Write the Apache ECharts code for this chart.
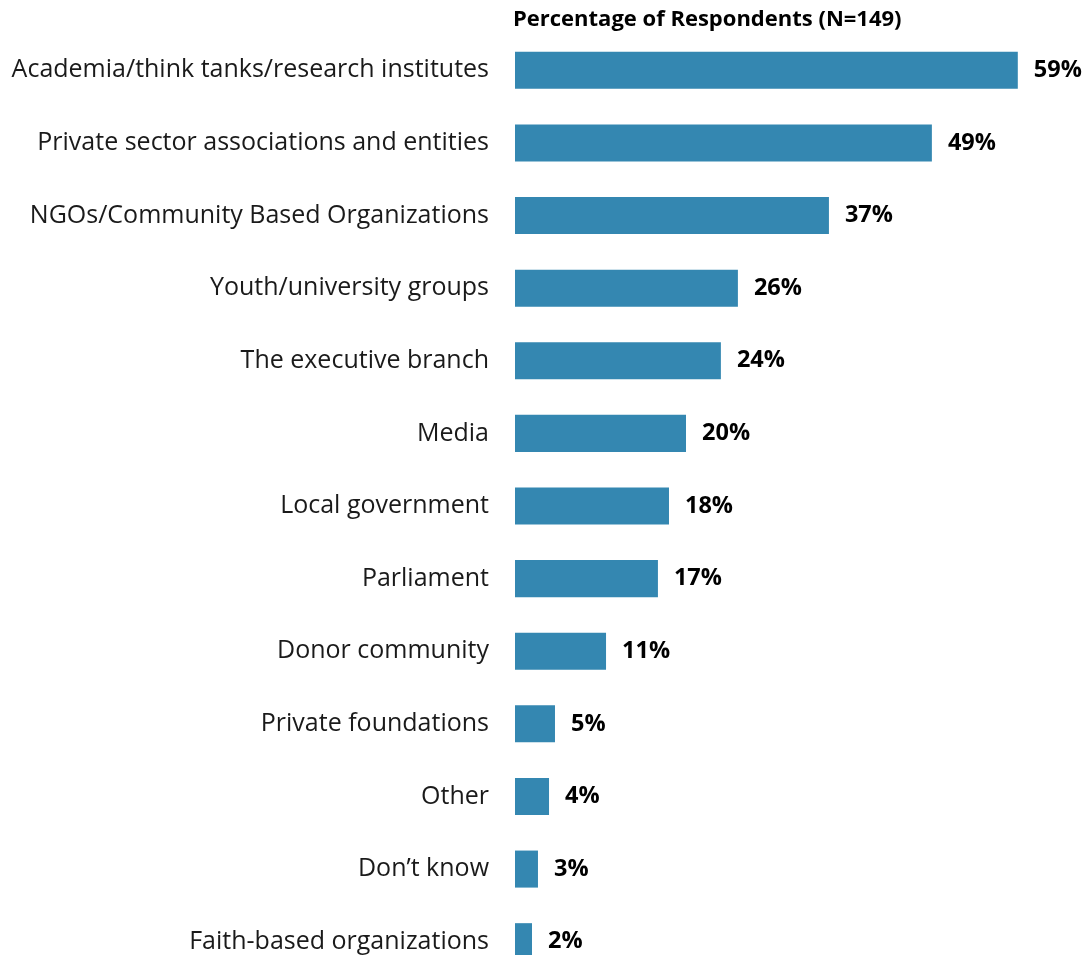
<!DOCTYPE html>
<html>
<head>
<meta charset="utf-8">
<script src="https://cdn.jsdelivr.net/npm/echarts@6/dist/echarts.min.js"></script>
<style>html,body{margin:0;padding:0;background:#fff;}#c{width:1088px;height:955px;}</style>
</head>
<body>
<div id="c"></div>
<script>
const categories = [
  "Academia/think tanks/research institutes",
  "Private sector associations and entities",
  "NGOs/Community Based Organizations",
  "Youth/university groups",
  "The executive branch",
  "Media",
  "Local government",
  "Parliament",
  "Donor community",
  "Private foundations",
  "Other",
  "Don\u2019t know",
  "Faith-based organizations"
];
const values = [59.1, 49.0, 36.9, 26.2, 24.2, 20.1, 18.1, 16.8, 10.7, 4.7, 4.0, 2.7, 2.0];
const title = "Percentage of Respondents (N=149)";

const chart = echarts.init(document.getElementById('c'), null, {renderer: 'canvas'});
chart.setOption({
  animation: false,
  backgroundColor: '#ffffff',
  title: {
    text: title,
    left: 508, top: 4,
    textStyle: {fontFamily: 'Open Sans', fontWeight: 'bold', fontSize: 22, color: '#000'}
  },
  grid: {left: 515, top: 34, width: 553, height: 944, containLabel: false, outerBoundsMode: 'none'},
  xAxis: {
    type: 'value', min: 0, max: 65, show: false
  },
  yAxis: {
    type: 'category', data: categories, inverse: true,
    axisLine: {show: false}, axisTick: {show: false},
    axisLabel: {fontFamily: 'Open Sans', fontSize: 25, color: '#1a1a1a', margin: 26}
  },
  series: [{
    type: 'bar', data: values, barCategoryGap: '49%',
    itemStyle: {color: '#3487b1'},
    label: {
      show: true, position: 'right', distance: 16,
      fontFamily: 'Open Sans', fontWeight: 'bold', fontSize: 23.5, color: '#000',
      formatter: p => Math.round(p.value) + '%'
    }
  }]
});
</script>
</body>
</html>
